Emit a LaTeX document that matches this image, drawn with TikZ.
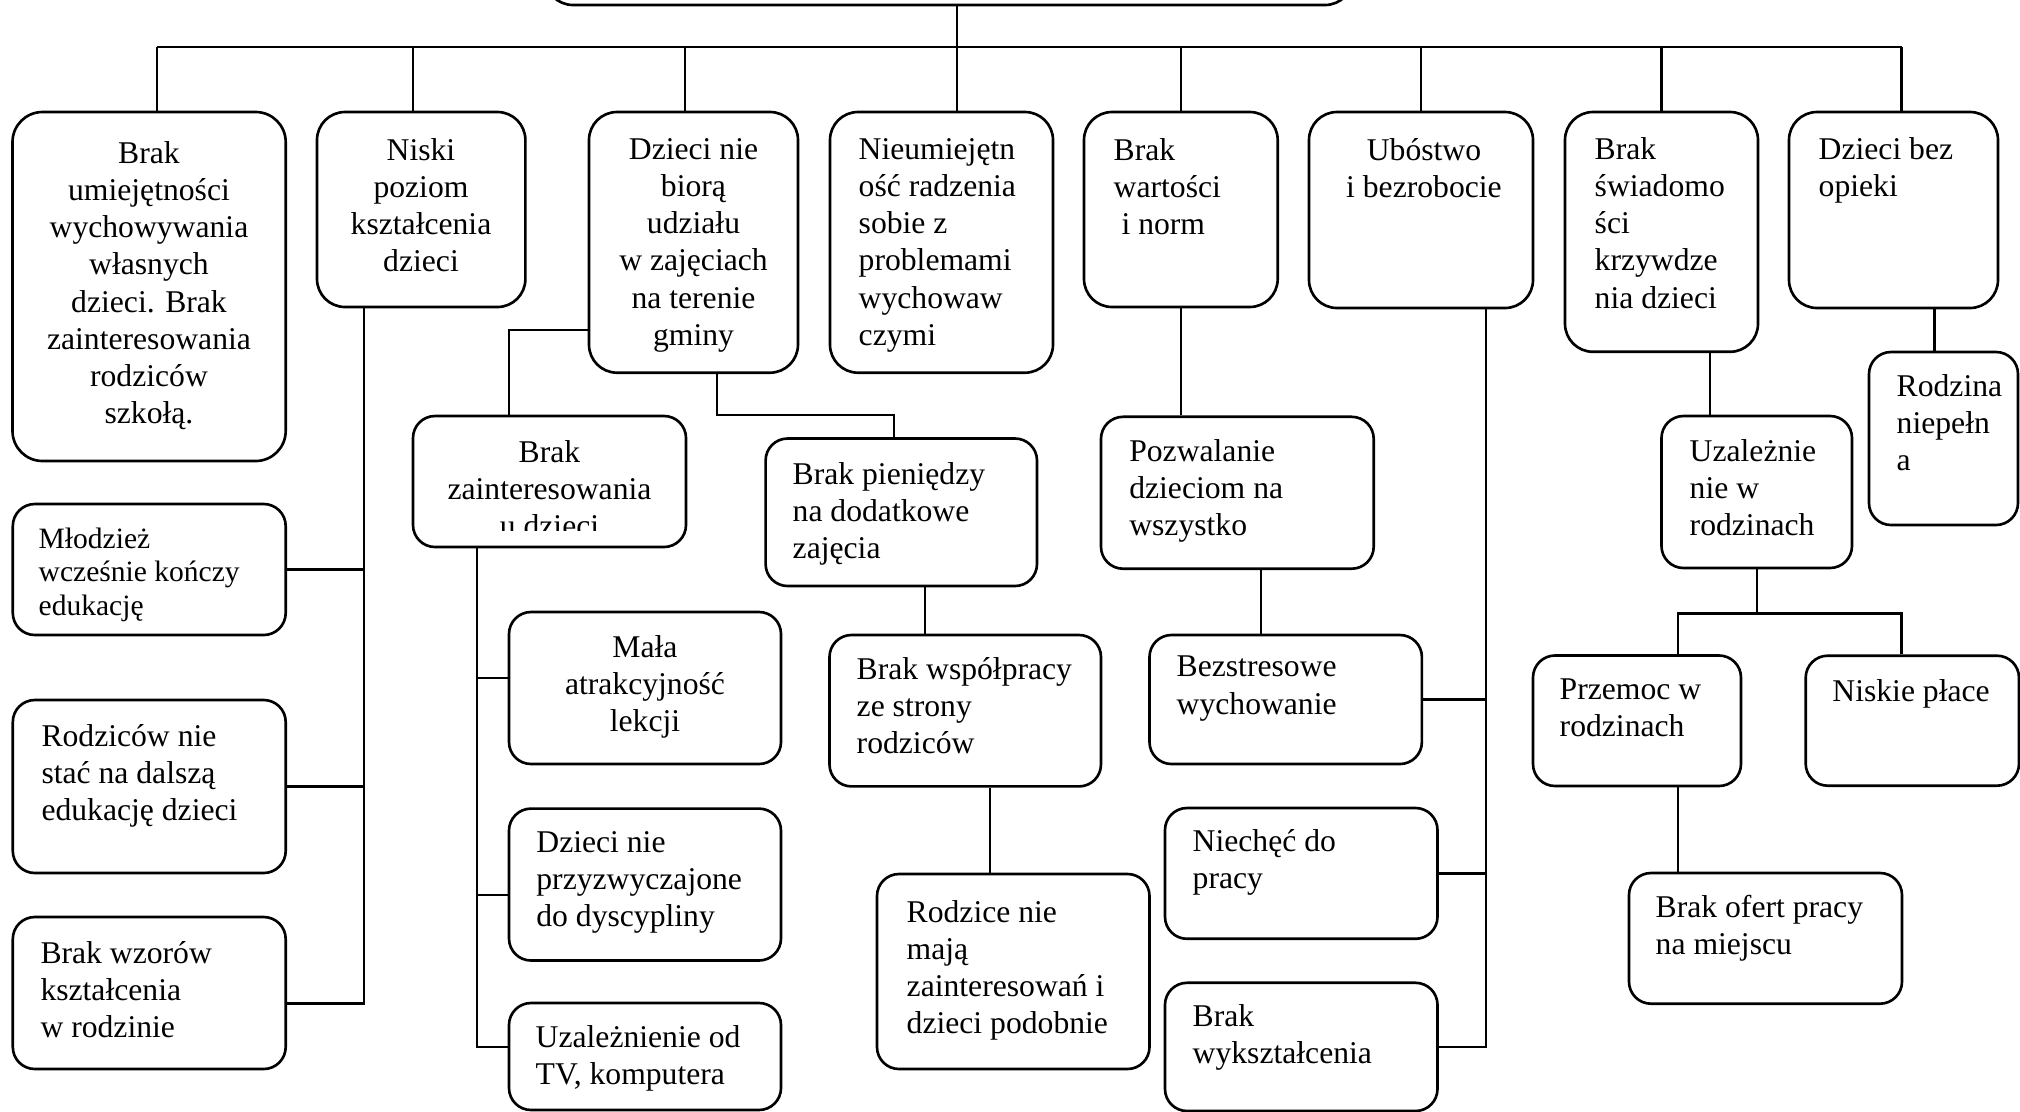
\documentclass[tikz,border=0pt]{standalone}
\usepackage{fontspec}
\setmainfont{Liberation Serif}
\usetikzlibrary{fit}

\begin{document}
\begin{tikzpicture}[x=0.01cm, y=-0.01cm,
    box/.style={draw, rounded corners=0.22cm, line width=0.75pt, inner sep=0pt},
    bigbox/.style={box, rounded corners=0.28cm},
    txt/.style={inner sep=0pt, anchor=north west, align=left, font=\fontsize{9}{10.55}\selectfont},
    txtc/.style={txt, anchor=north, align=center},
    link/.style={line width=0.65pt}]
    \useasboundingbox (0,0) rectangle (2020,1111);

    % first level
    \node(top) [bigbox, fit={(545,-60) (1353,5)}] {};
    \node(b1) [bigbox, rounded corners=0.3cm, fit={(12.5,112) (285.7,461)}] {};
    \node(b2) [bigbox, fit={(317,112) (525.4,307)}] {};
    \node(b3) [bigbox, fit={(589,112) (798,372.7)}] {};
    \node(b4) [bigbox, fit={(830,112) (1053,372.7)}] {};
    \node(b5) [bigbox, fit={(1084,112) (1277.7,307)}] {};
    \node(b6) [bigbox, fit={(1309,112) (1533,308)}] {};
    \node(b7) [bigbox, fit={(1565,112) (1758,351.8)}] {};
    \node(b8) [bigbox, fit={(1789,112) (1998,308)}] {};
    \node(tb1) at (149,141) [txtc] {Brak\\umiejętności\\wychowywania\\własnych\\dzieci. Brak\\zainteresowania\\rodziców\\szkołą.};
    \node(tb2) at (421,138) [txtc] {Niski\\poziom\\kształcenia\\dzieci};
    \node(tb3) at (693.5,138) [txtc] {Dzieci nie\\biorą\\udziału\\w zajęciach\\na terenie\\gminy};
    \node(tb4) at (858,138) [txt] {Nieumiejętn\\ość radzenia\\sobie z\\problemami\\wychowaw\\czymi};
    \node(tb5) at (1113,138) [txt] {Brak\\wartości\\\ i norm};
    \node(tb6) at (1424,138) [txtc] {Ubóstwo\\i bezrobocie};
    \node(tb7) at (1594,137) [txt] {Brak\\świadomo\\ści\\krzywdze\\nia dzieci};
    \node(tb8) at (1818,137) [txt] {Dzieci bez\\opieki};

    % left column
    \node(mlo) [box, fit={(12.8,504) (285.7,635)}] {};
    \node(rodz) [box, fit={(12.8,700) (285.7,873)}] {};
    \node(wzor) [box, fit={(12.8,917) (285.7,1069)}] {};
    \node(tmlo) at (38,527) [txt, font=\fontsize{8.4}{9.6}\selectfont] {Młodzież\\wcześnie kończy\\edukację};
    \node(trodz) at (40.8,723.4) [txt] {Rodziców nie\\stać na dalszą\\edukację dzieci};
    \node(twzor) at (39.8,940.6) [txt] {Brak wzorów\\kształcenia\\w rodzinie};

    % under Dzieci nie biora udzialu
    \node(zain) [box, fit={(413,416) (686,547)}] {};
    \node(mala) [box, fit={(509,612) (781,764)}] {};
    \node(dysc) [box, fit={(509,808.6) (781,960.5)}] {};
    \node(tv) [box, fit={(509,1003) (781,1110)}] {};
    \node(pien) [box, fit={(765.6,438.5) (1037,586)}] {};
    \node(wspol) [box, fit={(829.5,635) (1101,786.4)}] {};
    \node(rodzice) [box, fit={(877,874) (1149.5,1069)}] {};
    \begin{scope}
      \clip (413,416) rectangle (686,530);
      \node(tzain) at (549.5,439.7) [txtc] {Brak\\zainteresowania\\u dzieci};
    \end{scope}
    \node(tmala) at (645,634.7) [txtc] {Mała\\atrakcyjność\\lekcji};
    \node(tdysc) at (535.7,831) [txt] {Dzieci nie\\przyzwyczajone\\do dyscypliny};
    \node(ttv) at (535,1025) [txt] {Uzależnienie od\\TV, komputera};
    \node(tpien) at (792,462) [txt] {Brak pieniędzy\\na dodatkowe\\zajęcia};
    \node(twspol) at (856,657) [txt] {Brak współpracy\\ze strony\\rodziców};
    \node(trodzice) at (906,899.5) [txt] {Rodzice nie\\mają\\zainteresowań i\\dzieci podobnie};

    % middle
    \node(pozw) [box, fit={(1101,416.8) (1373.7,568.7)}] {};
    \node(bezstr) [box, fit={(1149.5,635) (1421.9,764)}] {};
    \node(niech) [box, fit={(1165,808) (1437.5,938.8)}] {};
    \node(wyk) [box, fit={(1165,982.8) (1437.5,1111)}] {};
    \node(tpozw) at (1128.6,439) [txt] {Pozwalanie\\dzieciom na\\wszystko};
    \node(tbezstr) at (1176,655.5) [txt] {Bezstresowe\\wychowanie};
    \node(tniech) at (1192,829) [txt] {Niechęć do\\pracy};
    \node(twyk) at (1192,1004) [txt] {Brak\\wykształcenia};

    % right
    \node(uzal) [box, fit={(1661.5,416) (1852,568)}] {};
    \node(przem) [box, fit={(1533,655.5) (1741,786)}] {};
    \node(place) [box, fit={(1805.7,655.7) (2019,785.7)}] {};
    \node(oferty) [box, fit={(1629,873) (1902,1003.7)}] {};
    \node(rodzina) [box, fit={(1869,352) (2018,525)}] {};
    \node(tuzal) at (1689,439) [txt] {Uzależnie\\nie w\\rodzinach};
    \node(tprzem) at (1559,678) [txt] {Przemoc w\\rodzinach};
    \node(tplace) at (1831.7,678.7) [txt] {Niskie płace};
    \node(toferty) at (1655,894.7) [txt] {Brak ofert pracy\\na miejscu};
    \node(trodzina) at (1896,374) [txt] {Rodzina\\niepełn\\a};

    % bus
    \coordinate (bus) at (0,47);
    \coordinate (d0) at ([xshift=0.08cm]top.south);
    \coordinate (d1) at ([xshift=0.08cm]b1.north);
    \coordinate (d2) at ([xshift=-0.08cm]b2.north);
    \coordinate (d3) at ([xshift=-0.085cm]b3.north);
    \coordinate (d4) at ([xshift=0.155cm]b4.north);
    \coordinate (d8) at ([xshift=0.08cm]b8.north);
    \draw[link] (d0) -- (d0 |- bus);
    \draw[link] (d1 |- bus) -- (d8 |- bus);
    \draw[link] (d1) -- (d1 |- bus);
    \draw[link] (d2) -- (d2 |- bus);
    \draw[link] (d3) -- (d3 |- bus);
    \draw[link] (d4) -- (d4 |- bus);
    \draw[link] (b5.north) -- (b5.north |- bus);
    \draw[link] (b6.north) -- (b6.north |- bus);
    \draw[link] (b7.north) -- (b7.north |- bus);
    \draw[link] (d8) -- (d8 |- bus);

    % Niski poziom
    \coordinate (k2) at ([xshift=0.48cm]b2.south west);
    \coordinate (wz) at ([yshift=-0.106cm]wzor.east);
    \draw[link] (k2) -- (k2 |- wz) -- (wz);
    \draw[link] (mlo.east) -- (mlo.east -| k2);
    \draw[link] (rodz.east) -- (rodz.east -| k2);

    % Dzieci nie biora udzialu
    \coordinate (k3) at ([yshift=-0.876cm]b3.west);
    \coordinate (z1) at ([xshift=-0.405cm]zain.north);
    \draw[link] (k3) -| (z1);
    \coordinate (k3b) at ([xshift=0.235cm]b3.south);
    \coordinate (p1) at ([xshift=-0.075cm]pien.north);
    \draw[link] (k3b) |- ([yshift=0.225cm]p1) -- (p1);
    \coordinate (p2) at ([xshift=0.237cm]pien.south);
    \draw[link] (p2) -- (p2 |- wspol.north);
    \coordinate (w2) at ([xshift=0.245cm]wspol.south);
    \draw[link] (w2) -- (w2 |- rodzice.north);
    \coordinate (k4) at ([xshift=0.65cm]zain.south west);
    \coordinate (m1) at ([yshift=0.10cm]mala.west);
    \coordinate (m2) at ([yshift=-0.105cm]dysc.west);
    \coordinate (m3) at ([yshift=0.095cm]tv.west);
    \draw[link] (k4) -- (k4 |- m3) -- (m3);
    \draw[link] (m1) -- (m1 -| k4);
    \draw[link] (m2) -- (m2 -| k4);

    % Brak wartosci, Ubostwo
    \draw[link] (b5.south) -- (b5.south |- pozw.north);
    \coordinate (q1) at ([xshift=0.237cm]pozw.south);
    \draw[link] (q1) -- (q1 |- bezstr.north);
    \coordinate (k6) at ([xshift=0.65cm]b6.south);
    \draw[link] (k6) -- (k6 |- wyk.east) -- (wyk.east);
    \draw[link] (bezstr.east) -- (bezstr.east -| k6);
    \draw[link] (niech.east) -- (niech.east -| k6);

    % Brak swiadomosci, Dzieci bez opieki
    \coordinate (k7) at ([xshift=0.485cm]b7.south);
    \draw[link] (k7) -- (k7 |- uzal.north);
    \coordinate (rozw) at ([yshift=-0.44cm]uzal.south);
    \draw[link] (uzal.south) -- (rozw);
    \coordinate (r1) at ([xshift=0.41cm]przem.north);
    \coordinate (r2) at ([xshift=-0.11cm]place.north);
    \draw[link] (r1) |- (rozw);
    \draw[link] (r2) |- (rozw);
    \coordinate (r3) at ([xshift=0.41cm]przem.south);
    \draw[link] (r3) -- (r3 |- oferty.north);
    \coordinate (k8) at ([xshift=0.41cm]b8.south);
    \draw[link] (k8) -- (k8 |- rodzina.north);
  \end{tikzpicture}
\end{document}
